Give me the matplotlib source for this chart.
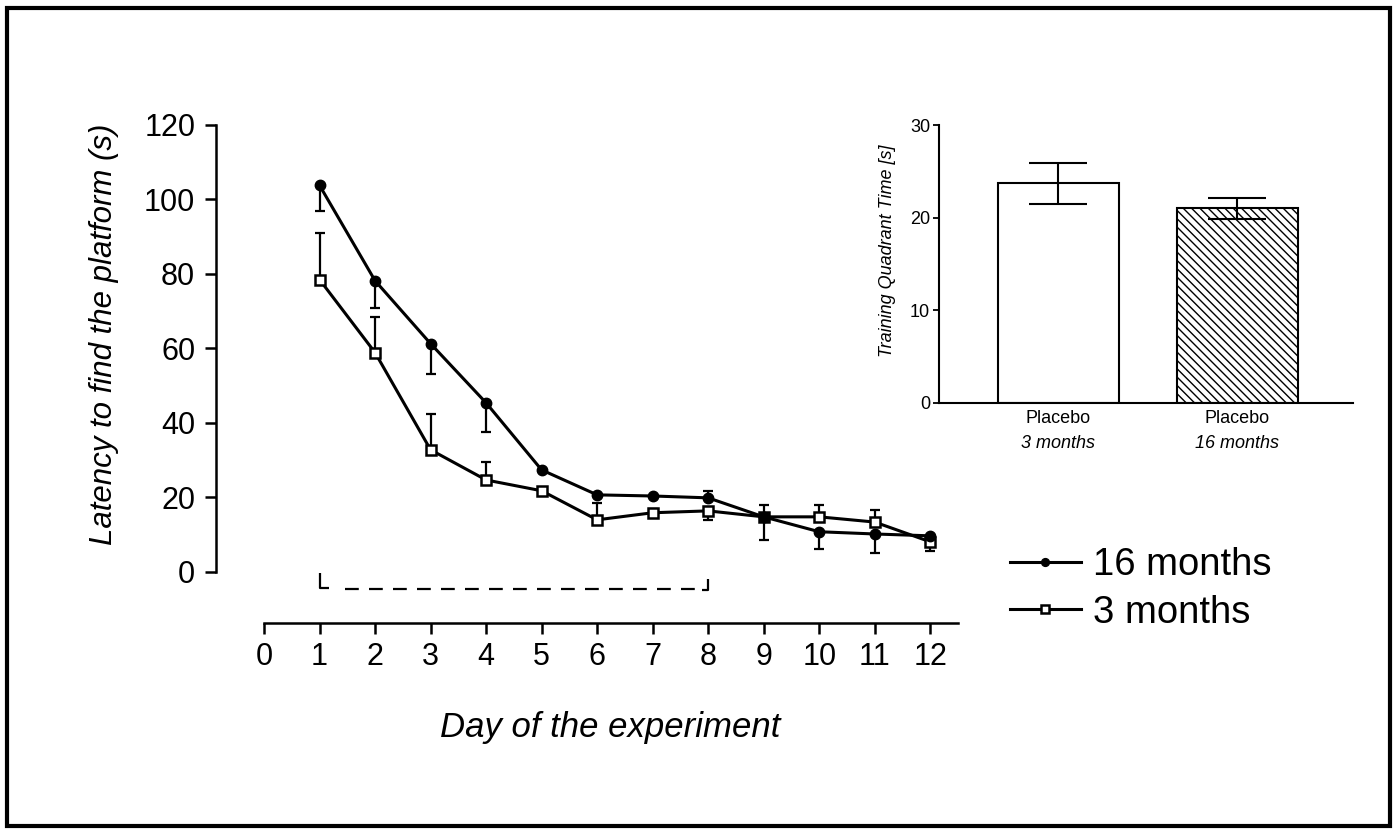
import numpy as np
import matplotlib
matplotlib.use("Agg")
import matplotlib.pyplot as plt
from matplotlib.patches import Rectangle
from matplotlib.transforms import blended_transform_factory

plt.rcParams['font.family'] = ['Liberation Sans', 'DejaVu Sans']
plt.rcParams['hatch.linewidth'] = 1.0

# ---- data: main learning curve ----
days = np.arange(1, 13)
lat_16 = np.array([103.8, 78.2, 61.3, 45.4, 27.4, 20.7, 20.4, 19.9, 14.8, 10.8, 10.2, 9.7])
err16_lo = np.array([6.8, 7.2, 8.1, 7.8, 0, 0, 0, 0, 6.2, 4.6, 5.1, 0])
err16_hi = np.array([0, 0, 0, 0, 0, 0, 0, 1.9, 0, 0, 0, 0])
lat_3 = np.array([78.5, 58.9, 32.8, 24.7, 21.8, 14.0, 15.9, 16.4, 14.8, 14.8, 13.4, 8.1])
err3_lo = np.array([0, 0, 0, 0, 0, 0, 0, 2.4, 0, 0, 0, 2.5])
err3_hi = np.array([12.6, 9.6, 9.7, 4.9, 0, 4.5, 1.0, 1.0, 3.2, 3.2, 3.3, 0])
x_ticks = list(range(0, 13))
y_ticks = [0, 20, 40, 60, 80, 100, 120]
bracket_days = [1, 8]

# ---- data: inset ----
inset_groups = ["Placebo", "Placebo"]
inset_sub = ["3 months", "16 months"]
inset_vals = [23.7, 21.0]
inset_err = [2.2, 1.1]
inset_yticks = [0, 10, 20, 30]

W, H = 1394, 833
fig = plt.figure(figsize=(W / 100, H / 100), dpi=100)

def fx(px):
    return px / W

def fy(py):
    return (H - py) / H

# ---------- main axes ----------
ax = fig.add_axes([fx(216), fy(623), fx(958) - fx(216), fy(125) - fy(623)])
ax.set_xlim(-0.865, 12.5)
ax.set_ylim(-13.7, 120)
for s in ['top', 'right']:
    ax.spines[s].set_visible(False)
ax.spines['left'].set_bounds(0, 120)
ax.spines['bottom'].set_bounds(0, 12.5)
for s in ['left', 'bottom']:
    ax.spines[s].set_linewidth(1.8)
ax.set_xticks(x_ticks)
ax.set_yticks(y_ticks)
ax.tick_params(axis='both', labelsize=22, width=1.8, length=8, direction='out')
ax.tick_params(axis='y', pad=7)
ax.tick_params(axis='x', pad=6)

lw = 2.2
def ebar(vals, lo, hi):
    m = (lo > 0) | (hi > 0)
    ax.errorbar(days[m], vals[m], yerr=[lo[m], hi[m]], fmt='none', ecolor='black',
                elinewidth=1.6, capsize=3.3, capthick=1.6, zorder=2)

ebar(lat_16, err16_lo, err16_hi)
ebar(lat_3, err3_lo, err3_hi)
l3, = ax.plot(days, lat_3, color='black', lw=lw, marker='s', markersize=7,
              markerfacecolor='white', markeredgecolor='black', markeredgewidth=1.8,
              zorder=3, label='3 months')
l16, = ax.plot(days, lat_16, color='black', lw=lw, marker='o', markersize=7.5,
               markerfacecolor='black', markeredgecolor='black', zorder=4,
               label='16 months')

# dashed bracket below the curves (training days)
b0, b1 = bracket_days
ax.plot([b0, b0, b0 + 0.17], [-0.4, -4.3, -4.3], color='black', lw=1.6,
        solid_capstyle='butt', clip_on=False)
ax.plot([b0 + 0.45, b1 - 0.2], [-4.5, -4.5], color='black', lw=1.6,
        dashes=(6.2, 4.6), clip_on=False)
ax.plot([b1 - 0.12, b1, b1], [-4.8, -4.8, -1.9], color='black', lw=1.6,
        solid_capstyle='butt', clip_on=False)

fig.text(fx(104), fy(334), "Latency to find the platform (s)", rotation=90,
         fontsize=22.5, style='italic', ha='center', va='center')
fig.text(fx(610), fy(737), "Day of the experiment", fontsize=25, style='italic',
         ha='center', va='baseline')

# legend
fig.legend(handles=[l16, l3], labels=['16 months', '3 months'], loc='center left',
           bbox_to_anchor=(fx(1010), fy(589)), frameon=False, fontsize=27.5,
           handlelength=1.85, handletextpad=0.33, labelspacing=0.3,
           borderpad=0, borderaxespad=0, markerscale=0.75)

# ---------- inset ----------
ax2 = fig.add_axes([fx(939), fy(403), fx(1353) - fx(939), fy(125) - fy(403)])
ax2.set_xlim(-0.665, 1.648)
ax2.set_ylim(0, 30)
for s in ['top', 'right']:
    ax2.spines[s].set_visible(False)
ax2.spines['left'].set_linewidth(1.5)
ax2.spines['bottom'].set_linewidth(1.5)
pos = np.arange(len(inset_vals))
ax2.bar(pos[0], inset_vals[0], width=0.676, color='white', edgecolor='black', linewidth=1.5)
ax2.bar(pos[1], inset_vals[1], width=0.676, color='white', edgecolor='black', linewidth=1.5,
        hatch='\\\\\\\\')
ax2.errorbar(pos, inset_vals, yerr=inset_err, fmt='none', ecolor='black',
             elinewidth=1.5, capsize=21, capthick=1.5, zorder=3)
ax2.set_yticks(inset_yticks)
ax2.tick_params(axis='y', labelsize=13, length=4.5, width=1.3, pad=2)
ax2.set_xticks(pos)
ax2.set_xticklabels(inset_groups)
ax2.tick_params(axis='x', labelsize=13, length=0, pad=5)
for i, sub in enumerate(inset_sub):
    ax2.annotate(sub, xy=(pos[i], 0), xycoords=('data', 'axes fraction'),
                 xytext=(0, -29), textcoords='offset points', ha='center', va='center',
                 fontsize=13, style='italic')
fig.text(fx(887), fy(251), "Training Quadrant Time [s]", rotation=90, fontsize=13,
         style='italic', ha='center', va='center')

# outer frame
fig.patches.append(Rectangle((fx(7), fy(826)), fx(1390) - fx(7), fy(8) - fy(826),
                             transform=fig.transFigure, fill=False, edgecolor='black',
                             linewidth=3, zorder=10))

fig.savefig("out.png", dpi=100)
